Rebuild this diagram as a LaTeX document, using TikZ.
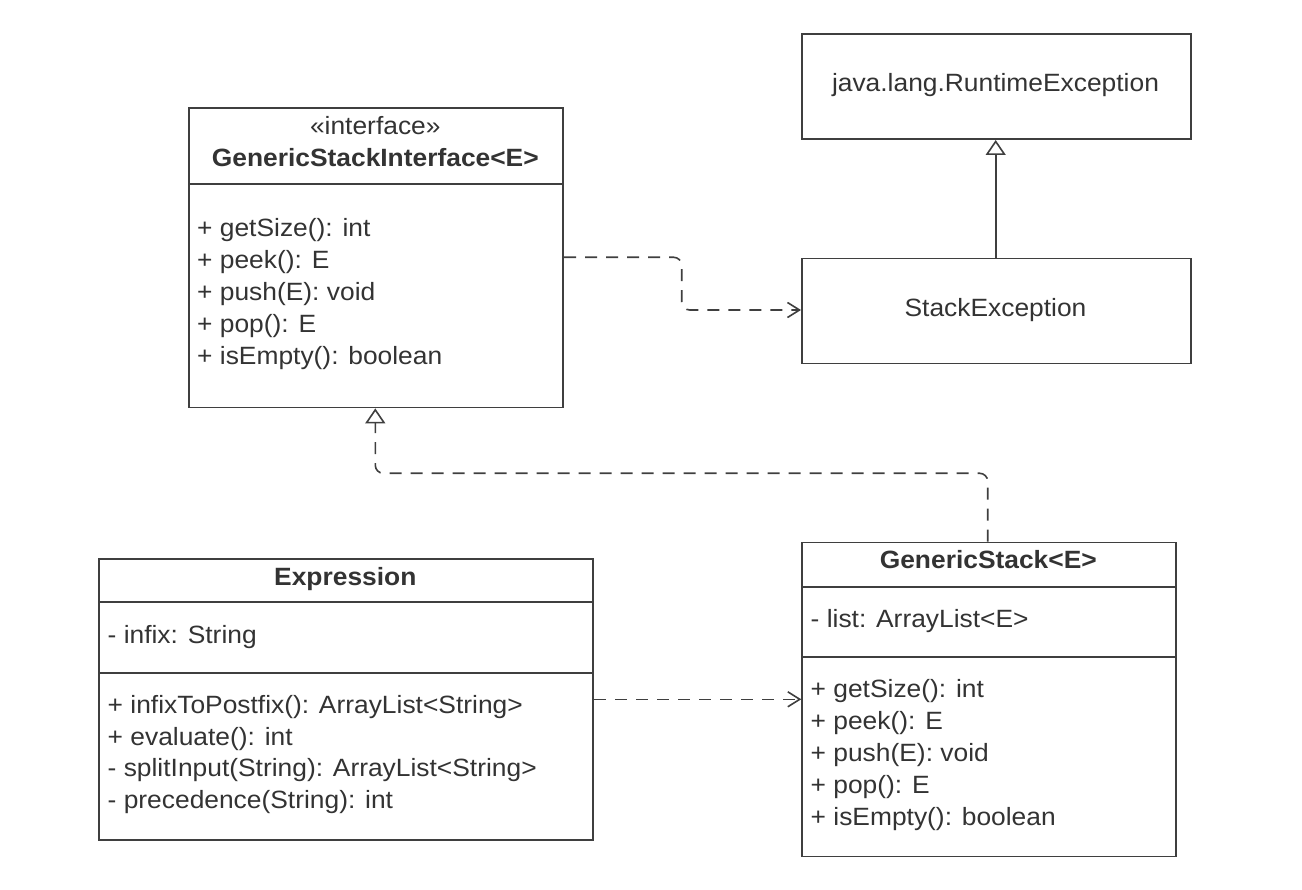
\documentclass[tikz,border=0pt]{standalone}
\usepackage{fontspec}
\setmainfont{Liberation Sans}[FakeStretch=1.055]
\usetikzlibrary{arrows.meta}
\definecolor{ink}{HTML}{333333}
\definecolor{edge}{HTML}{3f3f3f}
\begin{document}
\begin{tikzpicture}[x=1pt,y=-1pt,
  umlbox/.style={draw=edge, line width=1.7pt, rectangle, inner sep=0pt, anchor=north west},
  txt/.style={text=ink, inner sep=0pt, anchor=base west, font=\fontsize{25}{32}\selectfont},
  ctxt/.style={text=ink, inner sep=0pt, anchor=base, font=\fontsize{25}{32}\selectfont},
  btxt/.style={text=ink, inner sep=0pt, anchor=base, font=\fontsize{25}{32}\selectfont\bfseries},
  divider/.style={draw=edge, line width=1.7pt},
  dep/.style={draw=edge, line width=1.6pt, dash pattern=on 12pt off 9pt, rounded corners=8pt,
     -{Straight Barb[length=12pt,width=15pt,line width=1.6pt]}},
  real/.style={draw=edge, line width=1.6pt, dash pattern=on 12pt off 9pt, rounded corners=8pt,
     -{Triangle[open,length=15pt,width=20pt,line width=1.6pt,fill=white]}},
  gen/.style={draw=edge, line width=1.6pt,
     -{Triangle[open,length=15pt,width=20pt,line width=1.6pt,fill=white]}}
]
\useasboundingbox (0,0) rectangle (1302,890);

% java.lang.RuntimeException
\node[umlbox, minimum width=389pt, minimum height=105pt] (rte) at (801,33.3) {};
\node[ctxt] (rtetxt) at (995.5,92) {java.lang.RuntimeException};

% StackException
\node[umlbox, minimum width=389pt, minimum height=105pt] (se) at (801,257.7) {};
\node[ctxt] (setxt) at (995.5,316.7) {StackException};

% GenericStackInterface
\node[umlbox, minimum width=374pt, minimum height=299.4pt] (gsi) at (188.3,107.3) {};
\draw[divider] (gsi.west |- 0,184.3) -- (gsi.east |- 0,184.3);
\node[ctxt] (gsist) at (375.3,135) {«interface»};
\node[btxt] (gsititle) at (375.3,167) {GenericStackInterface<E>};
\node[txt] (gsim1) at (197,237) {+ getSize(): int};
\node[txt] (gsim2) at (197,269) {+ peek(): E};
\node[txt] (gsim3) at (197,301) {+ push(E): void};
\node[txt] (gsim4) at (197,333) {+ pop(): E};
\node[txt] (gsim5) at (197,365) {+ isEmpty(): boolean};

% Expression
\node[umlbox, minimum width=494pt, minimum height=281pt] (ex) at (98.3,558.3) {};
\draw[divider] (ex.west |- 0,601.7) -- (ex.east |- 0,601.7);
\draw[divider] (ex.west |- 0,672.7) -- (ex.east |- 0,672.7);
\node[btxt] (extitle) at (345.3,585) {Expression};
\node[txt] (exa1) at (107.5,643.3) {- infix: String};
\node[txt] (exm1) at (107.5,713.3) {+ infixToPostfix(): ArrayList<String>};
\node[txt] (exm2) at (107.5,745) {+ evaluate(): int};
\node[txt] (exm3) at (107.5,776.7) {- splitInput(String): ArrayList<String>};
\node[txt] (exm4) at (107.5,808.3) {- precedence(String): int};

% GenericStack
\node[umlbox, minimum width=374pt, minimum height=314pt] (gs) at (801.3,541.7) {};
\draw[divider] (gs.west |- 0,586.7) -- (gs.east |- 0,586.7);
\draw[divider] (gs.west |- 0,657.3) -- (gs.east |- 0,657.3);
\node[btxt] (gstitle) at (988.3,568) {GenericStack<E>};
\node[txt] (gsa1) at (810.5,627.5) {- list: ArrayList<E>};
\node[txt] (gsm1) at (810.5,697) {+ getSize(): int};
\node[txt] (gsm2) at (810.5,729) {+ peek(): E};
\node[txt] (gsm3) at (810.5,761) {+ push(E): void};
\node[txt] (gsm4) at (810.5,793) {+ pop(): E};
\node[txt] (gsm5) at (810.5,825) {+ isEmpty(): boolean};

% connectors
\draw[gen] (se.north -| 995.7,0) -- (rte.south -| 995.7,0);
\draw[dep] (gsi.east |- 0,257.3) -- (681.7,257.3) -- (681.7,310) -- (se.west |- 0,310);
\draw[real] (gs.north -| 987.7,0) -- (987.7,473.3) -- (375.3,473.3) -- (gsi.south -| 375.3,0);
\draw[dep] (ex.east |- 0,699.3) -- (gs.west |- 0,699.3);
\end{tikzpicture}
\end{document}
